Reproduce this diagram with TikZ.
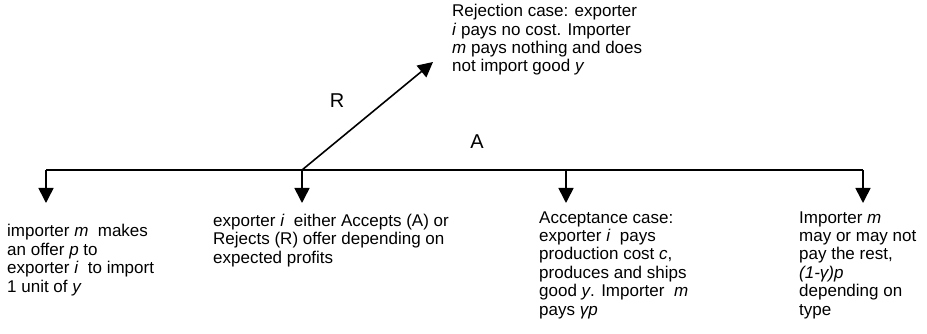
\documentclass[tikz,border=0pt]{standalone}
\usepackage{fontspec}
\setmainfont{Liberation Sans}
\usetikzlibrary{arrows.meta, positioning}

\begin{document}
\begin{tikzpicture}[x=1pt, y=-1pt,
        info/.style={anchor=base west, align=left, inner sep=0pt,
            font=\fontsize{17}{18.4}\selectfont},
        choice/.style={font=\fontsize{20}{24}\selectfont},
        move/.style={line width=1.6pt, -{Triangle[length=15pt, width=15pt]}}]
        \useasboundingbox (0,0) rectangle (927,334);

        % stages on the time line
        \coordinate (0) at (46,170);
        \coordinate (1) at (302,170);
        \coordinate (2) at (566,170);
        \coordinate (3) at (863,170);
        \coordinate (0e) at (46,203);
        \coordinate (1e) at (302,203);
        \coordinate (2e) at (566,203);
        \coordinate (3e) at (863,203);
        \coordinate (Re) at (433,62);

        % texts, placed at the baseline of their last line
        \node[info] (offer)  at (7,292)    {importer \textit{m}\ \ makes\\an offer \textit{p} to\\exporter \textit{i}\ \ to import\\1 unit of \textit{y}};
        \node[info] (answer) at (213,263)  {exporter \textit{i}\ \ either Accepts (A) or\\Rejects (R) offer depending on\\expected profits};
        \node[info] (accept) at (539,315)  {Acceptance case:\\exporter \textit{i}\ \ pays\\production cost \textit{c},\\produces and ships\\good \textit{y}. Importer\ \ \textit{m}\\pays \textit{γp}};
        \node[info] (pay)    at (799,315)  {Importer \textit{m}\\may or may not\\pay the rest,\\\textit{(1-γ)p}\\depending on\\type};
        \node[info] (reject) at (452,72)   {Rejection case: exporter\\\textit{i} pays no cost. Importer\\\textit{m} pays nothing and does\\not import good \textit{y}};

        \node[choice] (R) at (337,101) {R};
        \node[choice] (A) at (477,142) {A};

        \draw[line width=1.6pt] (0) -- (3);
        \draw[move] (0) -- (0e);
        \draw[move] (1) -- (1e);
        \draw[move] (2) -- (2e);
        \draw[move] (3) -- (3e);
        \draw[move] (1) -- (Re);
\end{tikzpicture}
\end{document}
